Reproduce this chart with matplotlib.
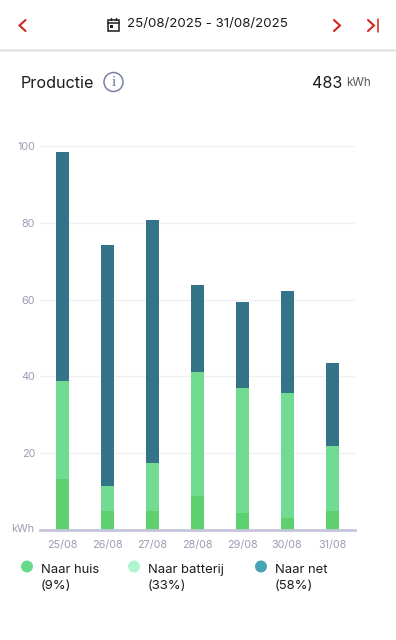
import numpy as np
import matplotlib
matplotlib.use('Agg')
import matplotlib.pyplot as plt
from matplotlib.patches import Circle, Rectangle

plt.rcParams['font.family'] = ['Inter', 'DejaVu Sans']

days = ['25/08', '26/08', '27/08', '28/08', '29/08', '30/08', '31/08']
naar_huis = [13.3, 5.0, 5.0, 8.8, 4.4, 3.0, 5.0]
naar_batterij = [25.6, 6.5, 12.5, 32.4, 32.6, 32.7, 17.0]
naar_net = [59.6, 62.7, 63.2, 22.6, 22.4, 26.5, 21.5]
y_ticks = [20, 40, 60, 80, 100]
legend_names = ['Naar huis\n(9%)', 'Naar batterij\n(33%)', 'Naar net\n(58%)']

W, H = 396, 640
RED = '#d0281f'
DARK = '#1c1c1e'
GREY = '#9a9db5'

fig = plt.figure(figsize=(W / 100, H / 100), dpi=100, facecolor='white')

# overlay in pixel coords for the app header and legend
ui = fig.add_axes([0, 0, 1, 1])
ui.set_xlim(0, W)
ui.set_ylim(H, 0)
ui.axis('off')


def line(xs, ys, color=RED, lw=1.5):
    ui.plot(xs, ys, color=color, lw=lw, solid_capstyle='round', solid_joinstyle='miter')


line([25.5, 19.5, 25.5], [20, 25.5, 31])
line([334, 340, 334], [20, 25.5, 31])
line([368, 374, 368], [20, 25.5, 31])
line([377.5, 377.5], [19, 32], lw=1.1)

# calendar icon
ui.add_patch(Rectangle((107.5, 19.5), 11, 11, fill=False, ec=DARK, lw=1.1))
line([107.5, 118.5], [23, 23], color=DARK, lw=1.1)
line([110.5, 110.5], [17.5, 19.5], color=DARK, lw=1)
line([115.5, 115.5], [17.5, 19.5], color=DARK, lw=1)
ui.add_patch(Rectangle((110, 25), 2.5, 2.5, fc=DARK, ec='none'))

ui.text(127, 24, '25/08/2025 - 31/08/2025', fontsize=9.6, color=DARK, ha='left', va='center')
ui.plot([0, W], [49.5, 49.5], color='#e4e4e6', lw=1.8)

ui.text(21, 83, 'Productie', fontsize=11.6, color=DARK, ha='left', va='center')
ui.add_patch(Circle((113.5, 82), 9.5, fill=False, ec='#7a80a0', lw=1.1))
ui.text(113.5, 82, 'i', fontsize=11, color='#6b7190', ha='center', va='center',
        family=['Liberation Serif', 'DejaVu Sans'])
ui.text(342, 83, '483', fontsize=11.6, color=DARK, ha='right', va='center')
ui.text(371, 83.5, 'kWh', fontsize=8.4, color='#55565c', ha='right', va='center')

# chart axes: x pixels 40-355, y pixels 530 (0) to 146 (100)
ax = fig.add_axes([40 / W, 1 - 530 / H, 315 / W, 384 / H])
ax.patch.set_alpha(0)
x = np.arange(len(days))
ax.set_xlim(-0.489, 6.511)
ax.set_ylim(0, 100)

huis = np.array(naar_huis)
batt = np.array(naar_batterij)
net = np.array(naar_net)
bw = 13 / 45
ax.bar(x, huis, bw, color='#5fd070', zorder=3)
ax.bar(x, batt, bw, bottom=huis, color='#71db91', zorder=3)
ax.bar(x, net, bw, bottom=huis + batt, color='#337488', zorder=3)

ax.set_yticks(y_ticks)
ax.set_xticks(x)
ax.set_xticklabels(days)
ax.grid(axis='y', color='#f0f0f3', lw=1, zorder=0)
ax.tick_params(axis='both', length=0, labelsize=7.8, labelcolor=GREY)
ax.tick_params(axis='x', pad=7)
ax.tick_params(axis='y', pad=3.5)
for name in ['top', 'right', 'left']:
    ax.spines[name].set_visible(False)
ax.spines['bottom'].set_color('#c4c5da')
ax.spines['bottom'].set_linewidth(2)
ax.spines['bottom'].set_zorder(4)
ui.text(34, 529, 'kWh', fontsize=7.8, color=GREY, ha='right', va='center')

# legend
legend_x = [27, 134, 261]
legend_tx = [41, 148, 275]
legend_colors = ['#66d98a', '#b0f5cf', '#47a3b5']
for cx, tx, col, name in zip(legend_x, legend_tx, legend_colors, legend_names):
    ui.add_patch(Circle((cx, 566.5), 6, fc=col, ec='none'))
    ui.text(tx, 578, name, fontsize=9.4, color=DARK, ha='left', va='center', linespacing=1.5)

fig.savefig('out.png', dpi=100)
